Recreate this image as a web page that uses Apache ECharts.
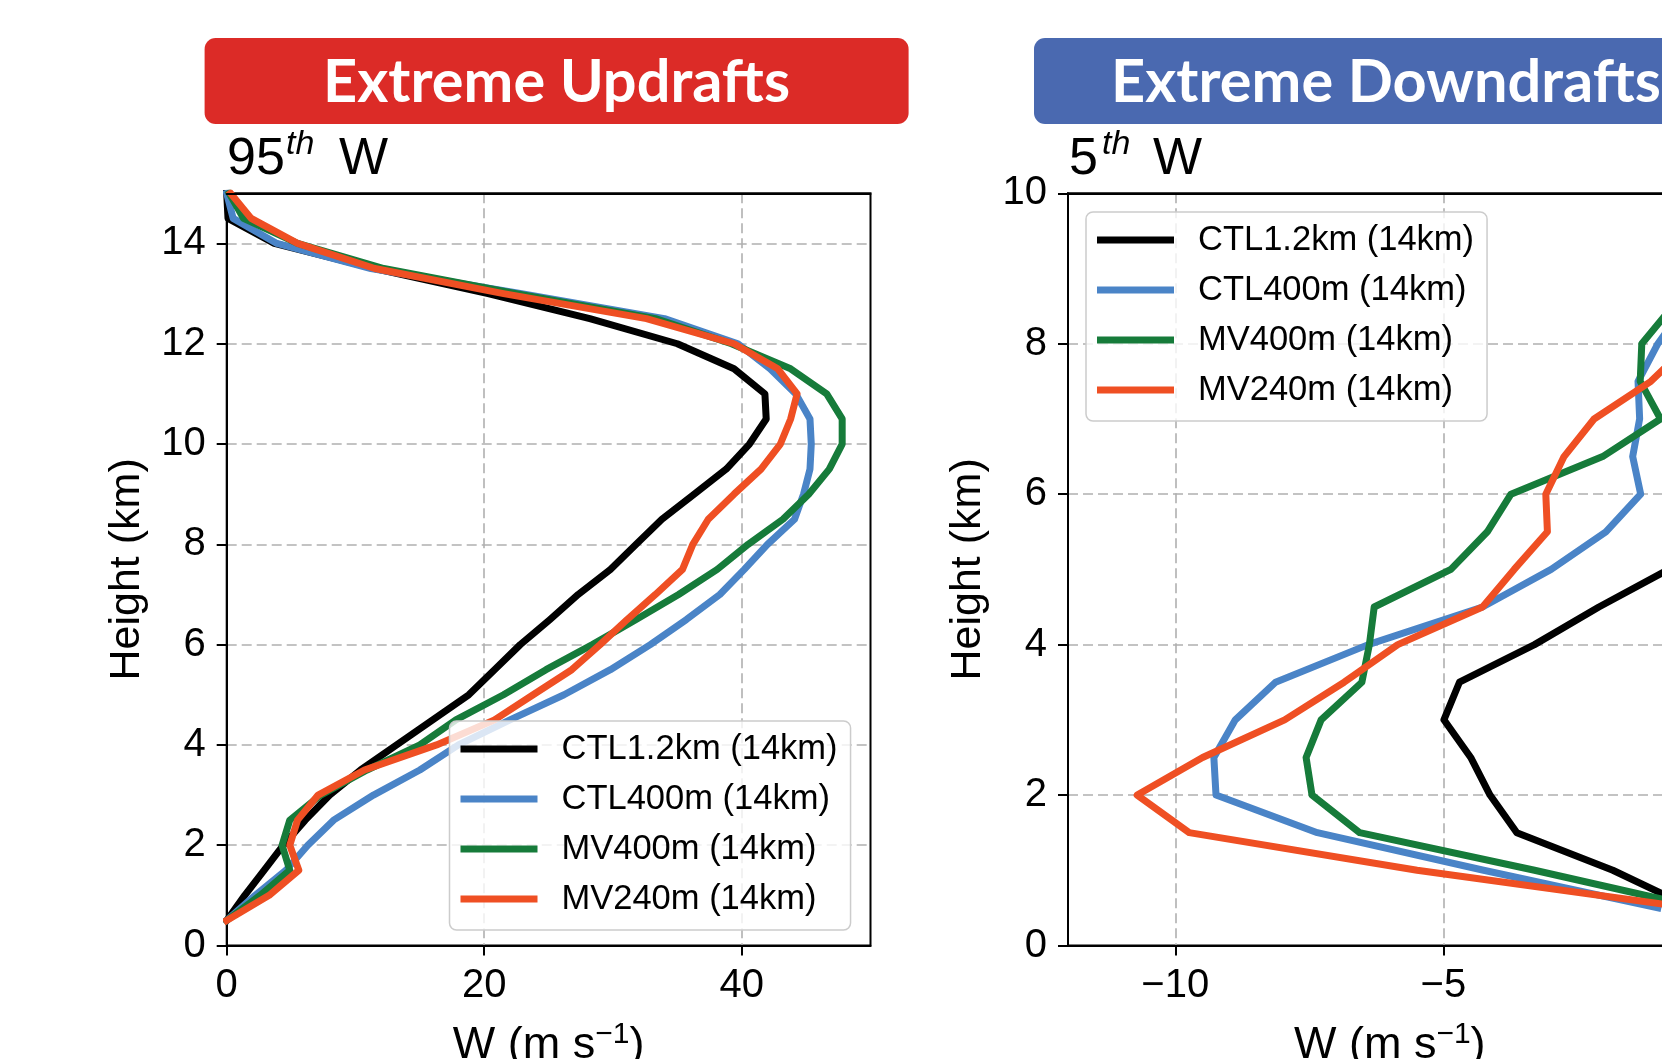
<!DOCTYPE html>
<html><head><meta charset="utf-8">
<script src="https://cdn.jsdelivr.net/npm/echarts@6/dist/echarts.min.js"></script>
<style>html,body{margin:0;padding:0;background:#fff;overflow:hidden}#c{width:1662px;height:1059px}</style>
</head><body><div id="c"></div>
<script>
// ---------- data ----------
const seriesNames = ['CTL1.2km (14km)', 'CTL400m (14km)', 'MV400m (14km)', 'MV240m (14km)'];
const seriesColors = ['#000000', '#4a84c7', '#167b3a', '#ef4f23'];
const panelBanners = ['Extreme Updrafts', 'Extreme Downdrafts'];
const panelPercentiles = ['95', '5'];

// Extreme updrafts (95th percentile W), heights in km
const heightsUp = [0.5,1,1.5,2,2.5,3,3.5,4,4.5,5,5.5,6,6.5,7,7.5,8,8.5,9,9.5,10,10.5,11,11.5,12,12.5,13,13.5,14,14.5,15];
const upCTL12  = [0.0,1.4,2.9,4.4,6.1,8.0,10.4,13.2,16.0,18.8,20.8,22.8,25.1,27.3,29.8,31.8,33.8,36.3,38.8,40.6,41.9,41.8,39.4,35.0,28.2,20.3,11.5,3.7,0.1,0.0];
const upCTL400 = [0.0,2.2,4.6,6.3,8.3,11.4,15.0,18.0,22.0,26.2,29.8,32.9,35.7,38.3,40.2,42.0,44.1,44.8,45.3,45.4,45.3,44.2,42.2,39.7,34.0,22.9,11.2,3.9,0.5,0.0];
const upMV400  = [0.0,2.6,4.9,4.3,4.9,7.3,10.9,15.0,17.8,21.5,24.8,28.4,31.8,35.1,38.1,40.5,43.2,45.2,46.8,47.8,47.8,46.6,43.8,39.2,33.3,22.5,12.2,5.5,1.3,0.2];
const upMV240  = [0.0,3.3,5.6,4.9,5.5,7.1,10.7,16.3,20.8,23.8,26.8,29.0,31.1,33.3,35.4,36.2,37.4,39.4,41.5,43.0,43.8,44.3,42.8,39.4,32.6,21.5,11.5,5.5,1.9,0.3];

// Extreme downdrafts (5th percentile W); only the part inside the picture is read
const heightsDown = [0.5,1,1.5,2,2.5,3,3.5,4,4.5,5,5.5,6,6.5,7,7.5,8,8.5];
const downCTL12  = [-0.37,-1.84,-3.63,-4.13,-4.49,-4.99,-4.70,-3.30,-2.10,-0.80];
const downCTL400 = [-1.00,-4.25,-7.35,-9.24,-9.28,-8.88,-8.13,-6.40,-4.27,-2.99,-1.97,-1.32,-1.47,-1.34,-1.37,-1.00,-0.50];
const downMV400  = [-0.20,-3.30,-6.56,-7.45,-7.56,-7.28,-6.52,-6.38,-6.29,-4.86,-4.18,-3.74,-2.03,-0.95,-1.33,-1.30,-0.72];
const downMV240  = [-0.40,-5.49,-9.74,-10.71,-9.49,-7.96,-6.85,-5.85,-4.27,-3.68,-3.06,-3.09,-2.75,-2.19,-1.13,-0.40];

const upXTicks = [0, 20, 40];
const upYTicks = [0, 2, 4, 6, 8, 10, 12, 14];
const downXTicks = [-10, -5, 0];
const downYTicks = [0, 2, 4, 6, 8, 10];
const upXRange = [0, 50], upYRange = [0, 15];
const downXRange = [-12, 0], downYRange = [0, 10];

// ---------- build ----------
const FONT = '"Liberation Sans", Arial, Helvetica, sans-serif';
const pairs = (vals, hs) => vals.map((v, i) => [v, hs[i]]);
const upSets = [upCTL12, upCTL400, upMV400, upMV240];
const downSets = [downCTL12, downCTL400, downMV400, downMV240];

const minusFmt = v => String(v).replace('-', '\u2212');

function xAxisCfg(gridIndex, range, ticks) {
  return {
    type: 'value', gridIndex, min: range[0], max: range[1], position: 'bottom',
    axisLine: {show: true, onZero: false, lineStyle: {color: '#000', width: 2}},
    axisTick: {show: true, inside: false, length: 10, lineStyle: {color: '#000', width: 2}, customValues: ticks},
    axisLabel: {show: true, margin: 20, fontSize: 40, fontFamily: FONT, color: '#000', customValues: ticks, formatter: minusFmt},
    splitLine: {show: true, lineStyle: {color: '#b0b0b0', width: 1.6, type: [10, 5]}},
    name: '{a|W (m s}{s|\u22121}{a|)}', nameLocation: 'middle', nameGap: 74,
    nameTextStyle: {rich: {
      a: {fontSize: 45, fontFamily: FONT, color: '#000', lineHeight: 52},
      s: {fontSize: 30, fontFamily: FONT, color: '#000', lineHeight: 32, verticalAlign: 'top'}
    }}
  };
}
// plain top spine drawn above the dashed grid lines
function topSpineCfg(gridIndex, range) {
  return {
    type: 'value', gridIndex, min: range[0], max: range[1], position: 'top', z: 5,
    axisLine: {show: true, onZero: false, lineStyle: {color: '#000', width: 2}},
    axisTick: {show: false}, axisLabel: {show: false}, splitLine: {show: false}
  };
}
function yAxisCfg(gridIndex, range, ticks) {
  return {
    type: 'value', gridIndex, min: range[0], max: range[1],
    axisLine: {show: true, onZero: false, lineStyle: {color: '#000', width: 2}},
    axisTick: {show: true, inside: false, length: 10, lineStyle: {color: '#000', width: 2}, customValues: ticks},
    axisLabel: {show: true, margin: 21, fontSize: 40, fontFamily: FONT, color: '#000', customValues: ticks},
    splitLine: {show: true, lineStyle: {color: '#b0b0b0', width: 1.6, type: [10, 5]}},
    name: 'Height (km)', nameLocation: 'middle', nameGap: 78,
    nameTextStyle: {fontSize: 43, fontFamily: FONT, color: '#000'}
  };
}
function legendCfg(left, top) {
  return {
    show: true, orient: 'vertical', left, top,
    data: seriesNames, icon: 'rect', itemWidth: 77, itemHeight: 7, itemGap: 10,
    padding: [8, 13, 11, 11],
    backgroundColor: 'rgba(255,255,255,0.8)', borderColor: '#cccccc', borderWidth: 1.5, borderRadius: 7,
    selectedMode: false,
    textStyle: {fontSize: 34.5, fontFamily: FONT, color: '#000', lineHeight: 40, padding: [0, 0, 0, 19]}
  };
}

const series = [];
upSets.forEach((vals, i) => series.push({
  name: seriesNames[i], type: 'line', xAxisIndex: 0, yAxisIndex: 0,
  data: pairs(vals, heightsUp), showSymbol: false, symbol: 'none', color: seriesColors[i],
  lineStyle: {width: 7, color: seriesColors[i], cap: 'square', join: 'round'}, animation: false
}));
downSets.forEach((vals, i) => series.push({
  name: seriesNames[i], type: 'line', xAxisIndex: 1, yAxisIndex: 1,
  data: pairs(vals, heightsDown), showSymbol: false, symbol: 'none', color: seriesColors[i],
  lineStyle: {width: 7, color: seriesColors[i], cap: 'square', join: 'round'}, animation: false
}));

// banner text scaling (narrow bold face like the original)
const BANNER_FONT = 'bold 60px Lato';
const mctx = document.createElement('canvas').getContext('2d');
mctx.font = BANNER_FONT;
const bannerScale = 467 / mctx.measureText(panelBanners[0]).width;

function banner(x, w, color, text) {
  return [
    {type: 'rect', shape: {x, y: 38, width: w, height: 86, r: 11}, style: {fill: color}, z: 10},
    {type: 'text', x: x + w / 2, y: 83, scaleX: bannerScale, z: 11,
     style: {text, x: 0, y: 0, font: BANNER_FONT, fill: '#fff', align: 'center', verticalAlign: 'middle'}}
  ];
}
function pctTitle(x0, xTh, xW, num) {
  return [
    {type: 'text', x: x0, y: 160, z: 11, style: {text: num, font: '52px ' + FONT, fill: '#000', align: 'left', verticalAlign: 'middle'}},
    {type: 'text', x: xTh, y: 145, z: 11, style: {text: 'th', font: 'italic 34px ' + FONT, fill: '#000', align: 'left', verticalAlign: 'middle'}},
    {type: 'text', x: xW, y: 160, z: 11, style: {text: 'W', font: '52px ' + FONT, fill: '#000', align: 'left', verticalAlign: 'middle'}}
  ];
}

const option = {
  backgroundColor: '#ffffff',
  animation: false,
  grid: [
    {left: 226.7, top: 193.3, width: 643.8, height: 752.2, show: true, borderColor: '#000', borderWidth: 2, backgroundColor: 'transparent', outerBoundsMode: 'none', containLabel: false},
    {left: 1068, top: 193.3, width: 643.5, height: 752.2, show: true, borderColor: '#000', borderWidth: 2, backgroundColor: 'transparent', outerBoundsMode: 'none', containLabel: false}
  ],
  xAxis: [xAxisCfg(0, upXRange, upXTicks), xAxisCfg(1, downXRange, downXTicks), topSpineCfg(0, upXRange), topSpineCfg(1, downXRange)],
  yAxis: [yAxisCfg(0, upYRange, upYTicks), yAxisCfg(1, downYRange, downYTicks)],
  legend: [legendCfg(449.5, 721), legendCfg(1086, 212)],
  series,
  graphic: {elements: [
    ...banner(204.6, 704, '#dc2b27', panelBanners[0]),
    ...banner(1034, 704, '#4a69b0', panelBanners[1]),
    ...pctTitle(227, 286, 339, panelPercentiles[0]),
    ...pctTitle(1069, 1102, 1153, panelPercentiles[1])
  ]}
};
const chart = echarts.init(document.getElementById('c'), null, {renderer: 'canvas'});
chart.setOption(option);
</script></body></html>
